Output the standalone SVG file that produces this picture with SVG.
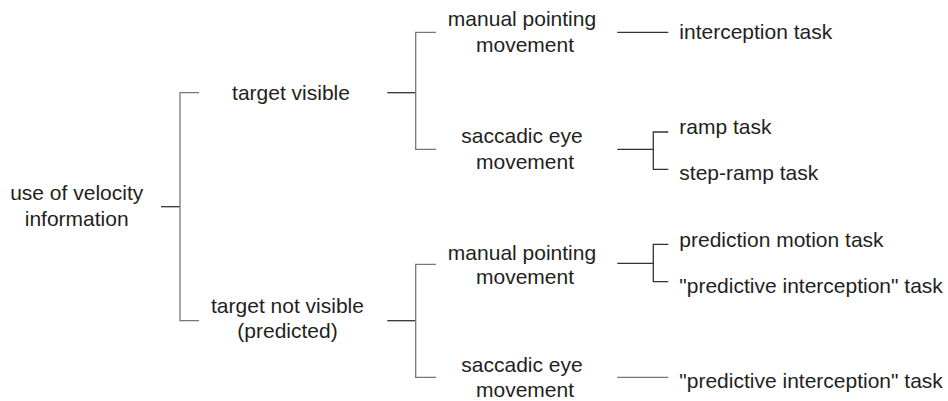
<svg xmlns="http://www.w3.org/2000/svg" width="948" height="401" viewBox="0 0 948 401">
<style>
text{font-family:"Liberation Sans",Arial,sans-serif;font-size:21px;fill:#231f20}
.c{text-anchor:middle}
.l{fill:none;stroke:#333;stroke-width:1.3}
.g{fill:none;stroke:#777;stroke-width:1.3}
</style>
<rect width="948" height="401" fill="#fff"/>
<g id="connectors">
<path class="l" d="M161 206.7H180"/>
<path class="g" d="M199 92.7H180V320.7H199"/>
<path class="l" d="M387.3 92.7H415.7"/>
<path class="g" d="M436 32.3H415.7V149.3H436"/>
<path class="l" d="M387.3 320.7H415.7"/>
<path class="g" d="M436 264.3H415.7V377.3H436"/>
<path class="l" d="M617.3 32.3H668.3"/>
<path class="l" d="M617.3 149.3H653.3"/>
<path class="l" d="M668.3 132H653.3V169.3H668.3"/>
<path class="l" d="M617.3 263.3H653.3"/>
<path class="l" d="M668.3 244.3H653.3V281.7H668.3"/>
<path class="g" d="M617.3 377.3H668.3"/>
</g>
<g id="root"><text class="c" x="76.7" y="200">use of velocity</text><text class="c" x="76.7" y="225.7">information</text></g>
<g id="visible"><text class="c" x="291" y="99.5">target visible</text></g>
<g id="notvisible"><text class="c" x="287.5" y="313.3">target not visible</text><text class="c" x="287.5" y="338.3">(predicted)</text></g>
<g id="manual1"><text class="c" x="522" y="26">manual pointing</text><text class="c" x="525" y="51.7">movement</text></g>
<g id="saccadic1"><text class="c" x="522" y="143.3">saccadic eye</text><text class="c" x="525" y="168.5">movement</text></g>
<g id="manual2"><text class="c" x="522" y="260">manual pointing</text><text class="c" x="525" y="283.5">movement</text></g>
<g id="saccadic2"><text class="c" x="522" y="371.7">saccadic eye</text><text class="c" x="525" y="396.7">movement</text></g>
<g id="interception"><text x="679.3" y="38.5">interception task</text></g>
<g id="ramp"><text x="679.3" y="134">ramp task</text></g>
<g id="stepramp"><text x="679.3" y="180">step-ramp task</text></g>
<g id="predmotion"><text x="679.3" y="247">prediction motion task</text></g>
<g id="predint1"><text x="679.3" y="293">"predictive interception" task</text></g>
<g id="predint2"><text x="679.3" y="387.5">"predictive interception" task</text></g>
</svg>
